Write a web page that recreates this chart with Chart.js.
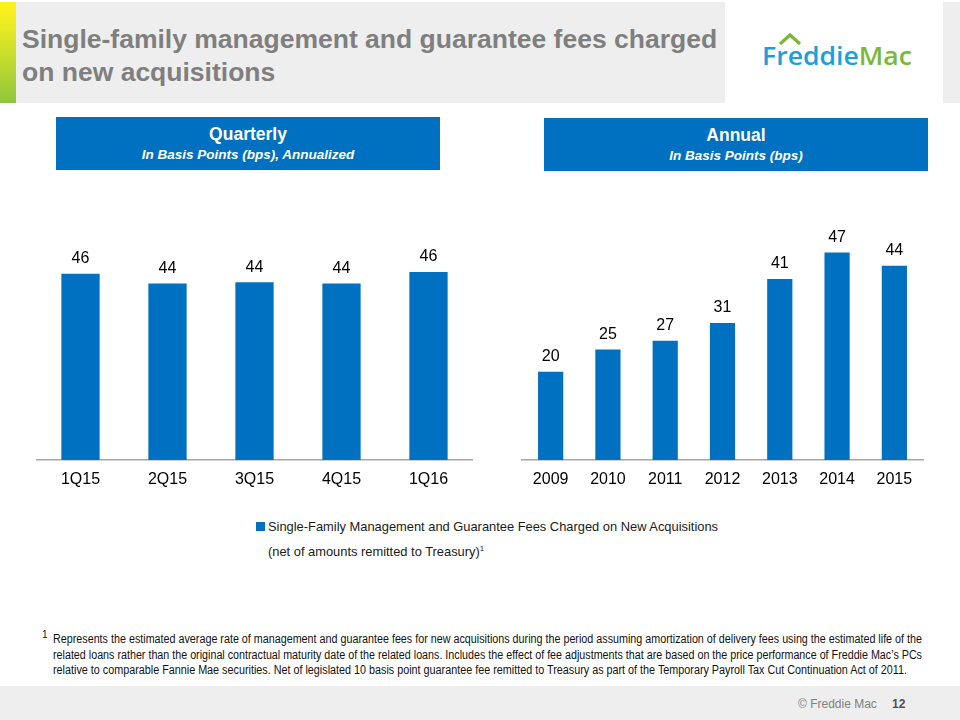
<!DOCTYPE html>
<html>
<head>
<meta charset="utf-8">
<script src="https://cdn.jsdelivr.net/npm/chart.js@4"></script>
<style>
body{margin:0;width:960px;height:720px;position:relative;background:#fff;font-family:"Liberation Sans",Arial,sans-serif;overflow:hidden}
.abs{position:absolute}
#stripe{left:0;top:2px;width:16px;height:101px;background:linear-gradient(#fff21c 0%,#e9ea22 25%,#c6dc2e 55%,#8fc53c 100%)}
#titlebg{left:16px;top:2px;width:709px;height:101px;background:#eeeeee}
#rightbg{left:943px;top:2px;width:17px;height:101px;background:#eeeeee}
#title{left:22px;top:23px;font-weight:bold;font-size:26.5px;line-height:33px;color:#7f7f7f;white-space:nowrap}
#logo{left:762px;top:40px;font-family:"Open Sans",sans-serif;font-weight:600;font-size:26px;line-height:30px;white-space:nowrap;transform-origin:left top}
.hdr{background:#0070c0;color:#fff;text-align:center;height:53px;width:384px}
.hdr b{display:block;font-size:17.5px;padding-top:6px;line-height:22px}
.hdr i{display:block;font-size:13.5px;font-weight:bold;line-height:20px}
canvas{position:absolute}
#sw{left:256px;top:522px;width:9px;height:9px;background:#0070c0}
.fit{position:absolute;white-space:nowrap;transform-origin:left top}
.leg{font-size:13px;line-height:22px;color:#1a1a1a}
#fnsup{left:42px;top:629px;font-size:10px;color:#111}
#foot{left:0;top:686px;width:960px;height:34px;background:#eeeeee}
#copy{left:798px;top:697px;font-size:12px;color:#808080}
#pg{left:892px;top:697px;font-size:12px;color:#505050;font-weight:bold}
</style>
</head>
<body>
<div class="abs" id="stripe"></div>
<div class="abs" id="titlebg"></div>
<div class="abs" id="rightbg"></div>
<div class="abs" id="title">Single-family management and guarantee fees charged<br>on new acquisitions</div>
<svg class="abs" style="left:778px;top:32px" width="26" height="16"><polyline points="2,12 12,3 22,12" fill="none" stroke="#7ab935" stroke-width="3.2"/></svg>
<div class="abs" id="logo"><span style="color:#1ca0dd">Freddie</span><span style="color:#7ab935">Mac</span></div>

<div class="abs hdr" style="left:56px;top:117px"><b>Quarterly</b><i>In Basis Points (bps), Annualized</i></div>
<div class="abs hdr" style="left:544px;top:118px"><b>Annual</b><i>In Basis Points (bps)</i></div>

<canvas id="quarterChart" style="left:20px;top:190px" width="470" height="320"></canvas>
<canvas id="annualChart" style="left:505px;top:180px" width="440" height="330"></canvas>

<div class="abs" id="sw"></div>
<div class="fit leg" id="leg1" style="left:268px;top:516px"></div>
<div class="fit leg" id="leg2" style="left:268px;top:538px"></div>

<div class="abs" id="fnsup">1</div>
<div class="fit fn" id="fn1" style="left:53px;top:632px"></div>
<div class="fit fn" id="fn2" style="left:53px;top:648px"></div>
<div class="fit fn" id="fn3" style="left:53px;top:663px"></div>

<div class="abs" id="foot"></div>
<div class="abs" id="copy">© Freddie Mac</div>
<div class="abs" id="pg">12</div>

<script>
const quarters = ["1Q15","2Q15","3Q15","4Q15","1Q16"];
const quarterFees = [46.0,43.6,43.9,43.6,46.4];

const years = ["2009","2010","2011","2012","2013","2014","2015"];
const annualFees = [20,25,27,31,41,47,44];

const seriesName = "Single-Family Management and Guarantee Fees Charged on New Acquisitions";
const seriesNote = "(net of amounts remitted to Treasury)";

const footnoteLines = [
"Represents the estimated average rate of management and guarantee fees for new acquisitions during the period assuming amortization of delivery fees using the estimated life of the",
"related loans rather than the original contractual maturity date of the related loans. Includes the effect of fee adjustments that are based on the price performance of Freddie Mac’s PCs",
"relative to comparable Fannie Mae securities. Net of legislated 10 basis point guarantee fee remitted to Treasury as part of the Temporary Payroll Tax Cut Continuation Act of 2011."
];

function ajustar(el, ancho){
const w = el.getBoundingClientRect().width;
el.style.transform = "scaleX(" + (ancho / w) + ")";
return ancho / w;
}

document.getElementById("leg1").textContent = seriesName;
document.getElementById("leg2").innerHTML = seriesNote + "<sup style='font-size:8px'>1</sup>";
const escala = ajustar(document.getElementById("leg1"), 450);
document.getElementById("leg2").style.transform = "scaleX(" + escala + ")";

const fnAnchos = [869, 869, 854];
footnoteLines.forEach((t,i)=>{
const el = document.getElementById("fn" + (i+1));
el.textContent = t;
el.style.fontSize = "12px";
el.style.lineHeight = "15px";
el.style.color = "#111";
ajustar(el, fnAnchos[i]);
});

ajustar(document.getElementById("logo"), 150);

const valueLabels = {
id:"valueLabels",
afterDatasetsDraw(chart){
const ctx = chart.ctx;
const meta = chart.getDatasetMeta(0);
const data = chart.data.datasets[0].data;
ctx.save();
ctx.font = "16px 'Liberation Sans', Arial, sans-serif";
ctx.fillStyle = "#000";
ctx.textAlign = "center";
ctx.textBaseline = "bottom";
meta.data.forEach((bar,i)=>{
ctx.fillText(Math.round(data[i]), bar.x, bar.y - 7);
});
ctx.restore();
}
};

function crearGrafico(id, labels, values, pad){
return new Chart(document.getElementById(id),{
type:"bar",
data:{
labels:labels,
datasets:[{
label:seriesName,
data:values,
backgroundColor:"#0070c0",
borderWidth:0,
barPercentage:0.44,
categoryPercentage:1
}]
},
options:{
responsive:false,
animation:false,
layout:{padding:pad},
plugins:{legend:{display:false},tooltip:{enabled:false}},
scales:{
x:{
grid:{display:false,drawTicks:false},
border:{display:true,color:"#a6a6a6",width:1.5},
ticks:{color:"#000",padding:10,font:{size:16,family:"'Liberation Sans', Arial, sans-serif"}},
afterFit(scale){ scale.height = 40; }
},
y:{display:false,min:0,max:60}
}
},
plugins:[valueLabels]
});
}

crearGrafico("quarterChart", quarters, quarterFees, {left:17,right:18,top:27,bottom:10});
crearGrafico("annualChart", years, annualFees, {left:17,right:22,top:15,bottom:10});
</script>
</body>
</html>
